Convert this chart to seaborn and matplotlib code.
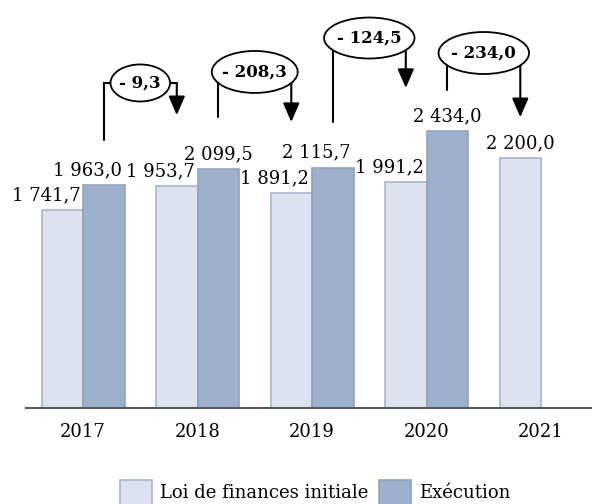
import seaborn as sns
import pandas as pd
import numpy as np
import matplotlib.pyplot as plt
from matplotlib.patches import Ellipse, Patch

# Data
years = ['2017', '2018', '2019', '2020', '2021']
lfi = [1741.7, 1953.7, 1891.2, 1991.2, 2200.0]
execution = [1963.0, 2099.5, 2115.7, 2434.0, np.nan]
ecarts = ['- 9,3', '- 208,3', '- 124,5', '- 234,0']
series = ['Loi de finances initiale', 'Exécution']

# Layout of labels and connectors (data units)
lfi_ha = ['right', 'right', 'right', 'right', 'center']
exec_ha = ['right', 'center', 'right', 'center']
rise = [395, 460, 401, 365]
elbow = [2861, 2958, 3257, 3125]
drop = [624, 626, 826, 360]
bubble_w = [0.52, 0.75, 0.79, 0.79]
bubble_h = [326, 370, 361, 370]

fills = ['#DCE3EF', '#9DB0CC']
edges = ['#A8B6CF', '#8FA2C0']

rows = []
for y, a, b in zip(years, lfi, execution):
    rows.append({'annee': y, 'serie': series[0], 'montant': a})
    if not np.isnan(b):
        rows.append({'annee': y, 'serie': series[1], 'montant': b})
df = pd.DataFrame(rows)

sns.set_theme(style='white')
plt.rcParams['font.family'] = ['DejaVu Serif']
plt.rcParams['text.color'] = 'black'

fig = plt.figure(figsize=(5.92, 5.04), dpi=100)
ax = fig.add_axes([26 / 592, 1 - 407.7 / 504, 566 / 592, 407.7 / 504])

sns.barplot(data=df, x='annee', y='montant', hue='serie', order=years,
            hue_order=series, palette=fills, saturation=1, width=0.725,
            errorbar=None, linewidth=1.2, ax=ax)

for cont, col in zip(ax.containers, edges):
    for bar in cont:
        bar.set_edgecolor(col)


def fmt(v):
    return f"{v:,.1f}".replace(',', ' ').replace('.', ',')


# value labels
for cont, aligns in zip(ax.containers, [lfi_ha, exec_ha]):
    for bar, ha in zip(cont, aligns):
        h = bar.get_height()
        if ha == 'right':
            x = bar.get_x() + bar.get_width()
            dx = -2
        else:
            x = bar.get_x() + bar.get_width() / 2
            dx = 0
        ax.annotate(fmt(h), (x, h), xytext=(dx, 7), textcoords='offset points',
                    ha=ha, va='baseline', fontsize=13, color='black')

# connectors between execution N and LFI N+1
lfi_bars = list(ax.containers[0])
exe_bars = list(ax.containers[1])
for i, txt in enumerate(ecarts):
    b1 = exe_bars[i]
    b2 = lfi_bars[i + 1]
    x1 = b1.get_x() + b1.get_width() / 2
    x2 = b2.get_x() + b2.get_width() / 2
    y1 = b1.get_height() + rise[i]
    y2 = b2.get_height() + drop[i]
    ye = elbow[i]
    ax.plot([x1, x1, x2], [y1, ye, ye], color='black', lw=1.5,
            solid_joinstyle='miter', zorder=4)
    ax.annotate('', xy=(x2, y2), xytext=(x2, ye),
                arrowprops=dict(arrowstyle='-|>,head_length=1.15,head_width=0.5',
                                mutation_scale=10, lw=1.5, color='black',
                                shrinkA=0, shrinkB=0), zorder=4)
    ax.add_patch(Ellipse(((x1 + x2) / 2, ye), bubble_w[i], bubble_h[i],
                         facecolor='white', edgecolor='black', lw=1.3, zorder=5))
    ax.text((x1 + x2) / 2, ye, txt, ha='center', va='center', fontsize=12,
            fontweight='bold', color='black', zorder=6)

ax.set_xlim(-0.498, 4.445)
ax.set_ylim(0, 3592)
ax.set_xlabel('')
ax.set_ylabel('')
ax.set_yticks([])
ax.tick_params(axis='x', length=0, pad=11, labelsize=13, colors='black')
for s in ['top', 'right', 'left']:
    ax.spines[s].set_visible(False)
ax.spines['bottom'].set_color('#595959')
ax.spines['bottom'].set_linewidth(1.5)

ax.get_legend().remove()
handles = [Patch(facecolor=f, edgecolor=e, lw=1.2) for f, e in zip(fills, edges)]
fig.legend(handles, series, loc='lower center', bbox_to_anchor=(0.532, -0.035),
           ncol=2, frameon=False, handlelength=1.8, handleheight=1.8,
           columnspacing=0.6, handletextpad=0.4, fontsize=13)

fig.savefig('out.png', dpi=100)
